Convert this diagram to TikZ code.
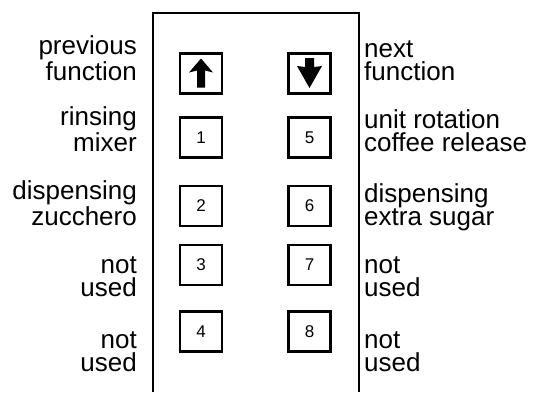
\documentclass[tikz,border=0pt]{standalone}
\usepackage{fontspec}
\setmainfont{Liberation Sans}
\begin{document}
\begin{tikzpicture}[x=1pt,y=1pt,
  key/.style={draw=black,line width=2.2pt,minimum width=42pt,minimum height=40pt,inner sep=0pt,font=\fontsize{17}{17}\selectfont},
  lbl/.style={inner sep=0pt,font=\fontsize{26}{22.5}\selectfont},
  lleft/.style={lbl,align=right,anchor=base east},
  lright/.style={lbl,align=left,anchor=base west},
  arr/.style={fill=black,draw=none}]
\useasboundingbox (0,0) rectangle (535,392);
% panel outline (open at bottom)
\coordinate (pbl) at (153,0);
\coordinate (ptl) at (153,379);
\coordinate (ptr) at (359,379);
\coordinate (pbr) at (359,0);
\draw[line width=2pt] (pbl) -- (ptl) -- (ptr) -- (pbr);
% keys
\node[key] (up) at (201,318.5) {};
\node[key] (down) at (309.5,318.5) {};
\node[key] (k1) at (201,254.5) {1};
\node[key] (k2) at (201,186) {2};
\node[key] (k3) at (201,127) {3};
\node[key] (k4) at (201,60.5) {4};
\node[key] (k5) at (309.5,254.5) {5};
\node[key] (k6) at (309.5,186) {6};
\node[key] (k7) at (309.5,127) {7};
\node[key] (k8) at (309.5,60.5) {8};
% arrow glyphs
\fill[arr] ([yshift=15pt]up.center) -- ++(12,-14) -- ++(-8,2) -- ++(0,-17) -- ++(-8,0) -- ++(0,17) -- ++(-8,-2) -- cycle;
\fill[arr] ([shift={(-4.5,15.5)}]down.center) -- ++(9,0) -- ++(0,-9) -- ++(8,1) -- ++(-12.5,-22) -- ++(-12.5,22) -- ++(8,-1) -- cycle;
% labels
\node[lleft] (l0) at (137,312) {previous\\function};
\node[lleft] (l1) at (137,241) {rinsing\\mixer};
\node[lleft] (l2) at (137,167) {dispensing\\zucchero};
\node[lleft] (l3) at (137,96) {not\\used};
\node[lleft] (l4) at (137,21) {not\\used};
\node[lright] (r0) at (364,312) {next\\function};
\node[lright] (r1) at (364,241) {unit rotation\\coffee release};
\node[lright] (r2) at (364,167) {dispensing\\extra sugar};
\node[lright] (r3) at (364,96) {not\\used};
\node[lright] (r4) at (364,21) {not\\used};
\end{tikzpicture}
\end{document}
